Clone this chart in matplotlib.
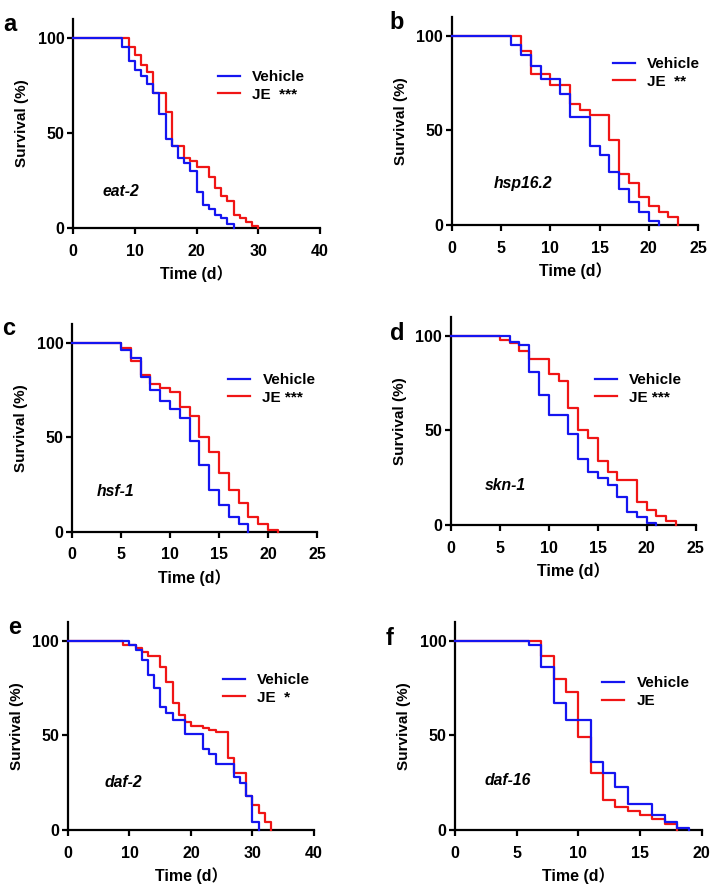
import matplotlib
matplotlib.use('Agg')
import matplotlib.pyplot as plt

plt.rcParams['font.family'] = ['Liberation Sans', 'Noto Sans CJK SC']
plt.rcParams['font.weight'] = 'bold'
plt.rcParams['axes.linewidth'] = 1.6

# survival curves: day of each step, survival (%) after the step
eat2_veh_t = [0, 8, 9, 10, 11, 12, 13, 14, 15, 16, 17, 18, 19, 20, 21, 22, 23, 24, 25, 26]
eat2_veh_s = [100, 95, 88, 83, 80, 76, 71, 60, 47, 43, 37, 34, 30, 19, 12, 10, 7, 5, 2, 0]
eat2_je_t = [0, 9, 10, 11, 12, 13, 15, 16, 18, 19, 20, 22, 23, 24, 25, 26, 27, 28, 29, 30]
eat2_je_s = [100, 95, 91, 86, 82, 71, 61, 43, 37, 35, 32, 27, 21, 17, 14, 7, 5, 3, 1, 0]

hsp_veh_t = [0, 6, 7, 8, 9, 11, 12, 14, 15, 16, 17, 18, 19, 20, 21]
hsp_veh_s = [100, 95, 90, 84, 77, 69, 57, 42, 37, 28, 19, 12, 7, 2, 0]
hsp_je_t = [0, 7, 8, 10, 12, 13, 14, 16, 17, 18, 19, 20, 21, 22, 23]
hsp_je_s = [100, 92, 80, 74, 64, 61, 58, 45, 27, 22, 15, 10, 7, 4, 0]

hsf_veh_t = [0, 5, 6, 7, 8, 9, 10, 11, 12, 13, 14, 15, 16, 17, 18]
hsf_veh_s = [100, 96, 92, 82, 75, 69, 65, 60, 48, 35, 22, 14, 8, 4, 0]
hsf_je_t = [0, 5, 6, 7, 8, 9, 10, 11, 12, 13, 14, 15, 16, 17, 18, 19, 20, 21]
hsf_je_s = [100, 97, 90, 83, 78, 76, 74, 66, 61, 50, 42, 31, 22, 15, 8, 4, 1, 0]

skn_veh_t = [0, 6, 7, 8, 9, 10, 12, 13, 14, 15, 16, 17, 18, 19, 20, 21]
skn_veh_s = [100, 97, 95, 81, 69, 58, 48, 35, 28, 25, 21, 15, 7, 4, 1, 0]
skn_je_t = [0, 5, 6, 7, 8, 10, 11, 12, 13, 14, 15, 16, 17, 19, 20, 21, 22, 23]
skn_je_s = [100, 98, 96, 92, 88, 80, 76, 62, 50, 46, 34, 28, 24, 12, 8, 5, 2, 0]

daf2_veh_t = [0, 10, 11, 12, 13, 14, 15, 16, 17, 19, 22, 23, 24, 27, 28, 29, 30, 31]
daf2_veh_s = [100, 98, 95, 90, 82, 75, 65, 62, 58, 51, 43, 40, 35, 28, 25, 18, 4, 0]
daf2_je_t = [0, 9, 11, 12, 13, 15, 16, 17, 18, 19, 20, 22, 23, 24, 26, 27, 29, 30, 31, 32, 33]
daf2_je_s = [100, 98, 96, 94, 92, 86, 78, 67, 61, 57, 55, 54, 53, 52, 38, 30, 18, 13, 9, 4, 0]

daf16_veh_t = [0, 6, 7, 8, 9, 11, 12, 13, 14, 16, 17, 18, 19]
daf16_veh_s = [100, 98, 86, 67, 58, 36, 30, 23, 14, 8, 4, 1, 0]
daf16_je_t = [0, 7, 8, 9, 10, 11, 12, 13, 14, 15, 16, 17, 18]
daf16_je_s = [100, 92, 80, 73, 49, 30, 16, 12, 10, 8, 6, 3, 0]

letters = ['a', 'b', 'c', 'd', 'e', 'f']
genes = ['eat-2', 'hsp16.2', 'hsf-1', 'skn-1', 'daf-2', 'daf-16']
stars = ['  ***', '  **', ' ***', ' ***', '  *', '']
xmaxes = [40, 25, 25, 25, 40, 20]
xsteps = [10, 5, 5, 5, 10, 5]

curves = [
    (eat2_veh_t, eat2_veh_s, eat2_je_t, eat2_je_s),
    (hsp_veh_t, hsp_veh_s, hsp_je_t, hsp_je_s),
    (hsf_veh_t, hsf_veh_s, hsf_je_t, hsf_je_s),
    (skn_veh_t, skn_veh_s, skn_je_t, skn_je_s),
    (daf2_veh_t, daf2_veh_s, daf2_je_t, daf2_je_s),
    (daf16_veh_t, daf16_veh_s, daf16_je_t, daf16_je_s),
]

# axes boxes in figure fractions (left, bottom, width, height)
boxes = [
    (0.1027, 0.7427, 0.3474, 0.2359),
    (0.6357, 0.7460, 0.3460, 0.2350),
    (0.1013, 0.3999, 0.3446, 0.2348),
    (0.6343, 0.4074, 0.3440, 0.2348),
    (0.0956, 0.0632, 0.3460, 0.2348),
    (0.6400, 0.0632, 0.3470, 0.2348),
]
legend_at = [(0.587, 0.756), (0.654, 0.807), (0.637, 0.763),
             (0.588, 0.731), (0.630, 0.755), (0.596, 0.740)]
gene_at = [(4.7, 19), (4.2, 22), (2.55, 21), (3.5, 21), (6.0, 25), (2.4, 26)]
letter_at = [(0.005, 0.985), (0.548, 0.988), (0.003, 0.642),
             (0.548, 0.637), (0.011, 0.305), (0.543, 0.292)]

BLUE = '#1515f0'
RED = '#f01515'

fig = plt.figure(figsize=(7.11, 8.86), dpi=100)

for i in range(6):
    ax = fig.add_axes(boxes[i])
    vt, vs, jt, js = curves[i]
    ax.step(jt, js, where='post', color=RED, lw=1.6, clip_on=False, zorder=3, label='JE' + stars[i])
    ax.step(vt, vs, where='post', color=BLUE, lw=1.6, clip_on=False, zorder=4, label='Vehicle')
    ax.set_xlim(0, xmaxes[i])
    ax.set_ylim(0, 110)
    ax.set_xticks(range(0, xmaxes[i] + 1, xsteps[i]))
    ax.set_yticks([0, 50, 100])
    ax.spines['top'].set_visible(False)
    ax.spines['right'].set_visible(False)
    ax.tick_params(direction='out', length=4.3, width=1.6, labelsize=11.5)
    ax.tick_params(axis='x', pad=7)
    ax.tick_params(axis='y', pad=2)
    ax.set_ylabel('Survival (%)', fontsize=11, fontweight='bold', labelpad=6)
    ax.set_xlabel('Time (d）', fontsize=11.5, fontweight='bold', labelpad=5)
    ax.text(gene_at[i][0], gene_at[i][1], genes[i], fontsize=11.3, fontweight='bold',
            style='italic', va='center')
    h, l = ax.get_legend_handles_labels()
    ax.legend(h[::-1], l[::-1], loc='upper left', bbox_to_anchor=legend_at[i],
              frameon=False, borderpad=0, borderaxespad=0, handlelength=1.45,
              handletextpad=0.8, labelspacing=0.25, prop={'size': 11, 'weight': 'bold'})
    fig.text(letter_at[i][0], letter_at[i][1], letters[i], fontsize=17, fontweight='bold',
             va='top', ha='left')

fig.savefig('out.png', dpi=100)
